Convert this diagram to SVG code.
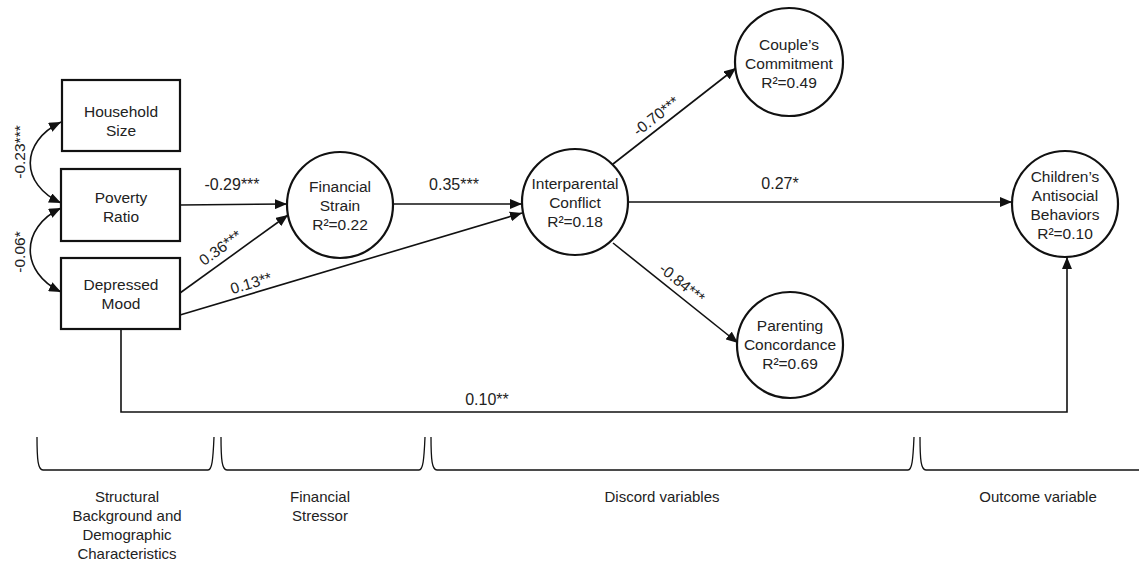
<svg xmlns="http://www.w3.org/2000/svg" width="1139" height="564" viewBox="0 0 1139 564">
<defs>
<style>
.box{fill:#fff;stroke:#111;stroke-width:2.2}
.circ{fill:#fff;stroke:#111;stroke-width:2.2}
.t{font-family:"Liberation Sans",Arial,sans-serif;font-size:15.5px;fill:#222;text-anchor:middle}
.lab{font-family:"Liberation Sans",Arial,sans-serif;font-size:16px;fill:#222;text-anchor:middle}
.rl{font-family:"Liberation Sans",Arial,sans-serif;font-size:15.5px;fill:#222;text-anchor:middle}
.bt{font-family:"Liberation Sans",Arial,sans-serif;font-size:15px;fill:#222;text-anchor:middle}
.edge{fill:none;stroke:#111;stroke-width:1.6}
.br{fill:none;stroke:#111;stroke-width:1.3}
</style>
<marker id="arr" viewBox="0 0 12 10" refX="12" refY="5" markerWidth="12" markerHeight="10" markerUnits="userSpaceOnUse" orient="auto-start-reverse">
<path d="M0,0 L12,5 L0,10 z" fill="#111"/>
</marker>
</defs>
<rect width="1139" height="564" fill="#fff"/>

<g id="connectors">
<path class="edge" d="M61,122 C20,142 20,184 61,203" marker-start="url(#arr)" marker-end="url(#arr)"/>
<path class="edge" d="M61,208 C20,228 20,272 61,292" marker-start="url(#arr)" marker-end="url(#arr)"/>
<path class="edge" d="M180,205 L287,204" marker-end="url(#arr)"/>
<path class="edge" d="M180,293 L288,215" marker-end="url(#arr)"/>
<path class="edge" d="M180,315 L522,213" marker-end="url(#arr)"/>
<path class="edge" d="M393,204 L522,204" marker-end="url(#arr)"/>
<path class="edge" d="M613,164 L736,68" marker-end="url(#arr)"/>
<path class="edge" d="M628,202 L1012,202" marker-end="url(#arr)"/>
<path class="edge" d="M613,243 L738,343" marker-end="url(#arr)"/>
<path class="edge" d="M121,329 V412 H1067 V257" marker-end="url(#arr)"/>

<text class="rl" transform="translate(25,152) rotate(-90)">-0.23***</text>
<text class="rl" transform="translate(25,252) rotate(-90)">-0.06*</text>
<text class="lab" x="232" y="190">-0.29***</text>
<text class="rl" transform="translate(227,257) rotate(-36)" y="-6">0.36***</text>
<text class="rl" transform="translate(254,293) rotate(-16.6)" y="-5">0.13**</text>
<text class="lab" x="454" y="190">0.35***</text>
<text class="rl" transform="translate(663,125) rotate(-38)" y="-6">-0.70***</text>
<text class="lab" x="780" y="189">0.27*</text>
<text class="rl" transform="translate(675,292) rotate(38.9)" y="-6">-0.84***</text>
<text class="lab" x="487" y="405">0.10**</text>
</g>

<g id="household-size">
<rect class="box" x="62" y="80" width="118" height="71"/>
<text class="t" x="121" y="117">Household</text>
<text class="t" x="121" y="136">Size</text>
</g>
<g id="poverty-ratio">
<rect class="box" x="61" y="169" width="119" height="72"/>
<text class="t" x="121" y="203">Poverty</text>
<text class="t" x="121" y="222">Ratio</text>
</g>
<g id="depressed-mood">
<rect class="box" x="61" y="258" width="119" height="71"/>
<text class="t" x="121" y="290">Depressed</text>
<text class="t" x="121" y="309">Mood</text>
</g>
<g id="financial-strain">
<circle class="circ" cx="340" cy="205" r="53"/>
<text class="t" x="340" y="192">Financial</text>
<text class="t" x="340" y="211">Strain</text>
<text class="t" x="340" y="230">R²=0.22</text>
</g>
<g id="interparental-conflict">
<circle class="circ" cx="575" cy="202" r="53"/>
<text class="t" x="575" y="189">Interparental</text>
<text class="t" x="575" y="208">Conflict</text>
<text class="t" x="575" y="227">R²=0.18</text>
</g>
<g id="couples-commitment">
<circle class="circ" cx="789" cy="62" r="54"/>
<text class="t" x="789" y="50">Couple’s</text>
<text class="t" x="789" y="69">Commitment</text>
<text class="t" x="789" y="88">R²=0.49</text>
</g>
<g id="parenting-concordance">
<circle class="circ" cx="790" cy="345" r="53"/>
<text class="t" x="790" y="331">Parenting</text>
<text class="t" x="790" y="350">Concordance</text>
<text class="t" x="790" y="369">R²=0.69</text>
</g>
<g id="childrens-antisocial">
<circle class="circ" cx="1065" cy="204" r="53"/>
<text class="t" x="1065" y="182">Children’s</text>
<text class="t" x="1065" y="201">Antisocial</text>
<text class="t" x="1065" y="220">Behaviors</text>
<text class="t" x="1065" y="239">R²=0.10</text>
</g>

<g id="brackets">
<path class="br" d="M37,437 C37,460 38,470 43,470 H208 C212,470 213,460 214,437"/>
<path class="br" d="M221,437 C221,460 222,470 227,470 H419 C423,470 424,460 425,437"/>
<path class="br" d="M431,437 C431,460 432,470 437,470 H908 C912,470 913,460 914,437"/>
<path class="br" d="M920,437 C920,460 921,470 926,470 H1145"/>
<text class="bt" x="127" y="502">Structural</text>
<text class="bt" x="127" y="521">Background and</text>
<text class="bt" x="127" y="540">Demographic</text>
<text class="bt" x="127" y="559">Characteristics</text>
<text class="bt" x="320" y="502">Financial</text>
<text class="bt" x="320" y="521">Stressor</text>
<text class="bt" x="662" y="502">Discord variables</text>
<text class="bt" x="1038" y="502">Outcome variable</text>
</g>
</svg>
